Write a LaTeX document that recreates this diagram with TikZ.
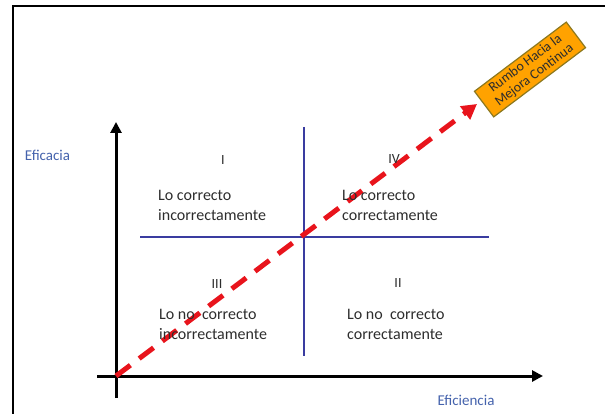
\documentclass[tikz,border=0pt]{standalone}
\usepackage{fontspec}
\setmainfont{Carlito}
\usetikzlibrary{arrows.meta}
\definecolor{lblblue}{RGB}{68,98,172}
\definecolor{lineblue}{RGB}{58,60,160}
\definecolor{dashred}{RGB}{232,20,28}
\definecolor{boxorange}{RGB}{255,162,0}
\definecolor{boxedge}{RGB}{140,120,30}
\definecolor{txtgray}{RGB}{45,45,45}
\tikzset{
  quadtxt/.style={anchor=west, align=left, inner sep=0pt, text=txtgray, font=\fontsize{16}{20}\selectfont},
  numtxt/.style={inner sep=0pt, text=txtgray, font=\fontsize{14}{16}\selectfont},
  axislbl/.style={inner sep=0pt, text=lblblue, font=\fontsize{15}{18}\selectfont},
  axisline/.style={line width=3pt, -{Triangle[length=11pt,width=11pt]}},
  divline/.style={line width=1.5pt, lineblue},
  trendline/.style={line width=5pt, dashred, dash pattern=on 18pt off 11pt, -{Triangle[length=15pt,width=16pt]}},
  tagbox/.style={rotate=37, fill=boxorange, draw=boxedge, line width=1.2pt, minimum width=115pt, minimum height=32pt, inner sep=0pt, align=center, text=txtgray, font=\fontsize{13.8}{14.6}\selectfont}
}
\begin{document}
\begin{tikzpicture}[x=1pt,y=-1pt]
\useasboundingbox (0,0) rectangle (605,414);
% frame (cropped)
\draw[line width=2.5pt] (13,414) -- (13,6) -- (605,6);
% coordinates
\coordinate (o) at (116,376);
\coordinate (ytop) at (116,122);
\coordinate (ybot) at (116,398);
\coordinate (xleft) at (97,376);
\coordinate (xright) at (543,376);
\coordinate (vtop) at (304,127);
\coordinate (vbot) at (304,356);
\coordinate (hleft) at (140,237);
\coordinate (hright) at (489,237);
\coordinate (tip) at (477,104);
% divider lines
\draw[divline] (vtop) -- (vbot);
\draw[divline] (hleft) -- (hright);
% axes
\draw[axisline] (ybot) -- (ytop);
\draw[axisline] (xleft) -- (xright);
% trend
\draw[trendline] (o) -- (tip);
% box
\node[tagbox] (tag) at (530,69.5) {Rumbo Hacia la\\Mejora Continua};
% labels
\node[axislbl] (efa) at (47.5,155) {Eficacia};
\node[axislbl] (efi) at (466,400) {Eficiencia};
\node[numtxt] (n1) at (223,160) {I};
\node[numtxt] (n4) at (394,159) {IV};
\node[numtxt] (n3) at (217,284) {III};
\node[numtxt] (n2) at (398,283) {II};
\node[quadtxt] (q1) at (158,205) {Lo correcto\\incorrectamente};
\node[quadtxt] (q4) at (342,205) {Lo correcto\\correctamente};
\node[quadtxt] (q3) at (159,324) {Lo no\ \ correcto\\incorrectamente};
\node[quadtxt] (q2) at (347,324) {Lo no\ \ correcto\\correctamente};
\end{tikzpicture}
\end{document}
